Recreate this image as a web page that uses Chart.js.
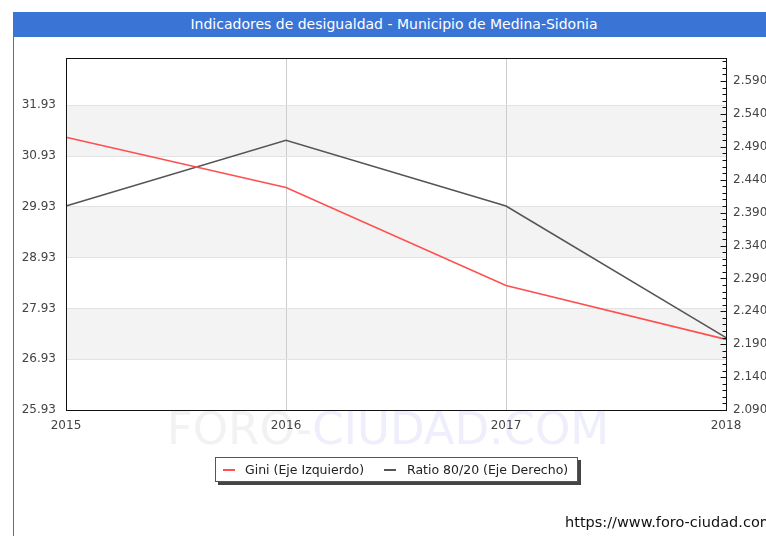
<!DOCTYPE html>
<html>
<head>
<meta charset="utf-8">
<script src="https://cdn.jsdelivr.net/npm/chart.js@4.4.1/dist/chart.umd.min.js"></script>
<style>
  html, body { margin: 0; padding: 0; background: #fff; width: 766px; height: 536px; overflow: hidden; }
  body { position: relative; font-family: 'DejaVu Sans', sans-serif; }
  #frame { position: absolute; left: 13px; top: 12px; width: 800px; height: 600px; border-left: 1px solid #3a75d6; }
  #title { position: absolute; left: 13px; top: 12px; width: 760px; height: 25px; background: #3a75d6;
           color: #fff; font-size: 14px; line-height: 25px; text-align: center; text-indent: 2px; }
  #chart { position: absolute; left: 0; top: 0; }
  #legend { position: absolute; left: 215px; top: 457px; width: 361px; height: 23px; background: #fff;
            border: 1px solid #555; box-shadow: 3px 3px 0 #444; font-size: 12.5px; line-height: 23px; color: #222; }
  #legend span.mk { position: absolute; top: 11px; width: 12px; height: 2px; }
  #legend span.tx { position: absolute; top: 0; }
  #url { position: absolute; left: 565px; top: 514px; font-size: 14.5px; color: #111; white-space: nowrap; }
</style>
</head>
<body>
<div id="frame"></div>
<div id="title">Indicadores de desigualdad - Municipio de Medina-Sidonia</div>
<canvas id="chart" width="766" height="536"></canvas>
<div id="legend">
  <span class="mk" style="left:7px;background:#ff5050"></span>
  <span class="tx" style="left:29px">Gini (Eje Izquierdo)</span>
  <span class="mk" style="left:168px;background:#555"></span>
  <span class="tx" style="left:191px">Ratio 80/20 (Eje Derecho)</span>
</div>
<div id="url">https://www.foro-ciudad.com</div>
<script>
'use strict';

// ─── Data ────────────────────────────────────────────────
const years = ['2015', '2016', '2017', '2018'];
const giniValues = [31.30, 30.31, 28.38, 27.32];
const ratioValues = [2.40, 2.50, 2.40, 2.20];
const leftTicks = [25.93, 26.93, 27.93, 28.93, 29.93, 30.93, 31.93];
const rightTicks = [2.09, 2.14, 2.19, 2.24, 2.29, 2.34, 2.39, 2.44, 2.49, 2.54, 2.59];

const FONT = { family: "'DejaVu Sans', sans-serif", size: 12 };

// ─── Background bands, watermark, frame, minor ticks ─────
const decorPlugin = {
  id: 'decor',
  beforeDraw(chart) {
    const { ctx: c, chartArea: { left, right }, scales: { y } } = chart;
    c.save();
    // alternating bands (every other interval between left ticks)
    c.fillStyle = '#f3f3f3';
    for (let i = leftTicks.length - 1; i > 0; i -= 2) {
      const y1 = y.getPixelForValue(leftTicks[i]);
      const y2 = y.getPixelForValue(leftTicks[i - 1]);
      c.fillRect(left, y1, right - left, y2 - y1);
    }
    // watermark
    c.font = "45px 'DejaVu Sans', sans-serif";
    c.textBaseline = 'alphabetic';
    const a = 'FORO-', b = 'CIUDAD.COM';
    const wa = c.measureText(a).width, wb = c.measureText(b).width;
    const x0 = 388 - (wa + wb) / 2;
    c.fillStyle = '#f2f2f2';
    c.fillText(a, x0, 444);
    c.fillStyle = '#eeeefc';
    c.fillText(b, x0 + wa, 444);
    c.restore();
  },
  afterDatasetsDraw(chart) {
    const { ctx: c, chartArea: { left, right, top, bottom }, scales: { y1 } } = chart;
    c.save();
    c.strokeStyle = '#111';
    c.lineWidth = 1;
    c.strokeRect(Math.round(left) + 0.5, Math.round(top) + 0.5,
                 Math.round(right - left), Math.round(bottom - top));
    // inward ticks on right axis, minor every 0.01
    c.beginPath();
    const xr = Math.round(right) + 0.5;
    for (let k = 209; k <= 262; k++) {
      const py = Math.round(y1.getPixelForValue(k / 100)) + 0.5;
      const len = (k - 209) % 5 === 0 ? 6 : 4;
      c.moveTo(xr - len, py);
      c.lineTo(xr, py);
    }
    c.stroke();
    c.restore();
  },
};

new Chart(document.getElementById('chart'), {
  type: 'line',
  data: {
    labels: years,
    datasets: [
      {
        label: 'Gini (Eje Izquierdo)',
        data: giniValues,
        yAxisID: 'y',
        borderColor: '#ff5050',
        borderWidth: 1.6,
        pointRadius: 0,
        tension: 0,
      },
      {
        label: 'Ratio 80/20 (Eje Derecho)',
        data: ratioValues,
        yAxisID: 'y1',
        borderColor: '#555555',
        borderWidth: 1.6,
        pointRadius: 0,
        tension: 0,
      },
    ],
  },
  plugins: [decorPlugin],
  options: {
    responsive: false,
    animation: false,
    layout: { padding: { top: 58, left: 0, right: 0, bottom: 0 } },
    plugins: { legend: { display: false }, tooltip: { enabled: false } },
    scales: {
      x: {
        offset: false,
        afterFit(s) { s.height = 126; },
        grid: {
          color: ctx => (ctx.index === 0 || ctx.index === years.length - 1) ? 'rgba(0,0,0,0)' : '#cccccc',
          drawTicks: false,
        },
        border: { display: false },
        ticks: { font: FONT, color: '#444', padding: 9, maxRotation: 0 },
      },
      y: {
        position: 'left',
        min: 25.93,
        max: 32.86,
        afterFit(s) { s.width = 66; },
        afterBuildTicks(s) { s.ticks = leftTicks.map(v => ({ value: v })); },
        grid: { color: '#e2e2e2', drawTicks: false },
        border: { display: false },
        ticks: { font: FONT, color: '#444', padding: 10, callback: v => v.toFixed(2) },
      },
      y1: {
        position: 'right',
        min: 2.09,
        max: 2.625,
        afterFit(s) { s.width = 40; },
        afterBuildTicks(s) { s.ticks = rightTicks.map(v => ({ value: v })); },
        grid: { drawOnChartArea: false, drawTicks: false },
        border: { display: false },
        ticks: { font: FONT, color: '#444', padding: 7, callback: v => v.toFixed(3) },
      },
    },
  },
});
</script>
</body>
</html>
